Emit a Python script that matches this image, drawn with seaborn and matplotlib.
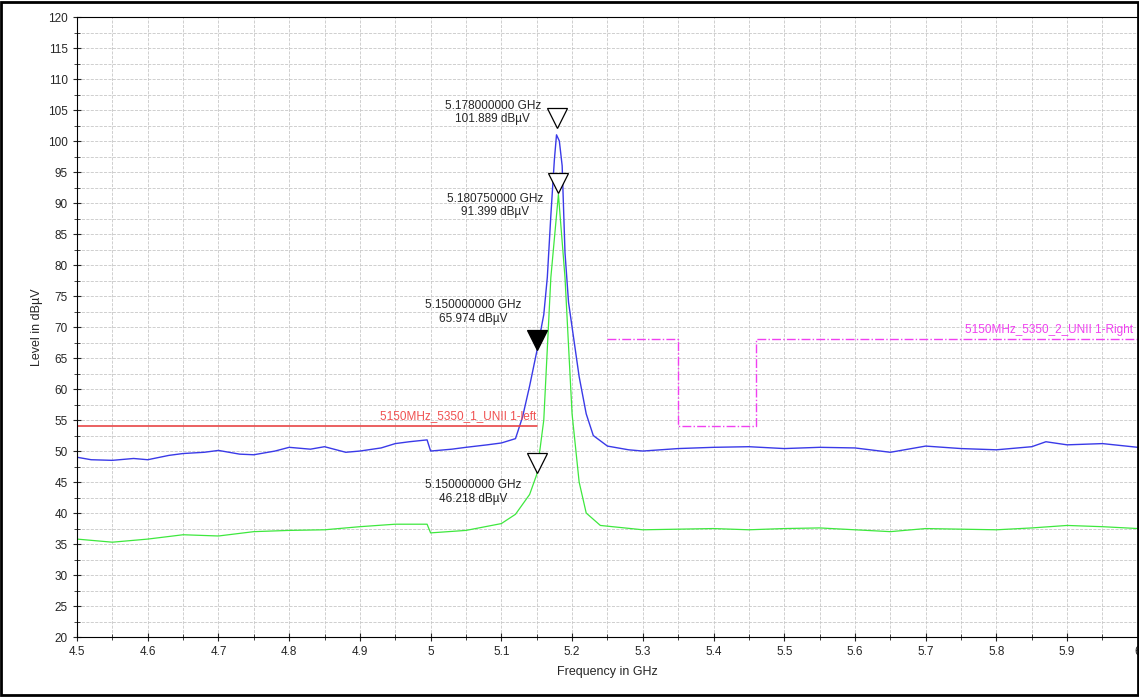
import numpy as np
import seaborn as sns
import matplotlib.pyplot as plt
from matplotlib.ticker import MultipleLocator, FuncFormatter
from matplotlib.patches import Rectangle

# trace values (GHz, dBµV)
blue_f = [4.5, 4.52, 4.55, 4.58, 4.6, 4.63, 4.65, 4.68, 4.7, 4.73, 4.75, 4.78, 4.8, 4.83,
          4.85, 4.88, 4.9, 4.93, 4.95, 4.97, 4.995, 5.0, 5.03, 5.05, 5.08, 5.1, 5.12, 5.13,
          5.14, 5.15, 5.16, 5.165, 5.17, 5.175, 5.178, 5.182, 5.186, 5.19, 5.195, 5.2, 5.21,
          5.22, 5.23, 5.25, 5.28, 5.3, 5.35, 5.4, 5.45, 5.5, 5.55, 5.6, 5.65, 5.7, 5.75, 5.8,
          5.85, 5.87, 5.9, 5.95, 6.0]
blue_v = [49.0, 48.6, 48.5, 48.8, 48.6, 49.3, 49.6, 49.8, 50.1, 49.5, 49.4, 50.0, 50.6, 50.3,
          50.7, 49.8, 50.0, 50.5, 51.2, 51.5, 51.8, 50.0, 50.3, 50.6, 51.0, 51.3, 52.0, 55.5,
          60.5, 66.0, 72.0, 78.0, 88.0, 97.0, 101.0, 100.0, 96.0, 82.0, 74.0, 70.0, 62.0,
          56.0, 52.5, 50.8, 50.2, 50.0, 50.4, 50.6, 50.7, 50.4, 50.6, 50.5, 49.8, 50.8, 50.4,
          50.2, 50.7, 51.5, 51.0, 51.2, 50.6]
green_f = [4.5, 4.55, 4.6, 4.65, 4.7, 4.75, 4.8, 4.85, 4.9, 4.95, 4.995, 5.0, 5.05, 5.1,
           5.12, 5.14, 5.15, 5.16, 5.17, 5.1807, 5.19, 5.2, 5.21, 5.22, 5.24, 5.3, 5.35,
           5.4, 5.45, 5.5, 5.55, 5.6, 5.65, 5.7, 5.75, 5.8, 5.85, 5.9, 5.95, 6.0]
green_v = [35.8, 35.3, 35.8, 36.5, 36.3, 37.0, 37.2, 37.3, 37.8, 38.2, 38.2, 36.8, 37.2, 38.3,
           39.8, 43.0, 46.2, 55.0, 78.0, 91.4, 78.0, 56.0, 45.0, 40.0, 38.0, 37.3, 37.4,
           37.5, 37.3, 37.5, 37.6, 37.3, 37.0, 37.5, 37.4, 37.3, 37.6, 38.0, 37.8, 37.5]

left_limit_f = [4.5, 4.5, 5.15]
left_limit_v = [68, 54, 54]
right_limit_f = [5.25, 5.35, 5.35, 5.46, 5.46, 6.0]
right_limit_v = [68, 68, 54, 54, 68, 68]

marker_f = [5.178, 5.18075, 5.15, 5.15]
marker_v = [101.889, 91.399, 65.974, 46.218]
marker_filled = [False, False, True, False]
marker_text = ["5.178000000 GHz\n101.889 dBµV", "5.180750000 GHz\n91.399 dBµV",
               "5.150000000 GHz\n65.974 dBµV", "5.150000000 GHz\n46.218 dBµV"]
text_dy = [2.7, -1.8, 6.5, -2.8]

sns.set_style("white")
plt.rcParams['font.family'] = ['Liberation Sans', 'DejaVu Sans']

fig = plt.figure(figsize=(11.39, 6.97), dpi=100)
ax = fig.add_axes([0.0676, 0.086, 0.9314, 0.8896])

sns.lineplot(x=blue_f, y=blue_v, ax=ax, color='#3a3ae8', lw=1.0, sort=False)
sns.lineplot(x=green_f, y=green_v, ax=ax, color='#3ee83e', lw=0.9, sort=False)
ax.plot(left_limit_f, left_limit_v, color='#e84545', lw=1.2)
ax.plot(right_limit_f, right_limit_v, color='#f040f0', lw=1.0, ls='-.')
ax.text(5.15, 54.6, "5150MHz_5350_1_UNII 1-left", color='#f05050', fontsize=8.5,
        ha='right', va='bottom')
ax.text(5.755, 68.6, "5150MHz_5350_2_UNII 1-Right", color='#f040f0', fontsize=8.5,
        ha='left', va='bottom', clip_on=True)

for f, v, filled, txt, dy in zip(marker_f, marker_v, marker_filled, marker_text, text_dy):
    ax.plot(f, v + 1.9, marker='v', ms=15, mec='black', mew=0.9,
            mfc='black' if filled else 'white', zorder=5)
    ax.text(f - 0.022, v + dy, txt, fontsize=8.5, ha='right', va='center',
            multialignment='center')

ax.set_xlim(4.5, 6.0)
ax.set_ylim(20, 120)
ax.xaxis.set_major_locator(MultipleLocator(0.1))
ax.xaxis.set_minor_locator(MultipleLocator(0.05))
ax.yaxis.set_major_locator(MultipleLocator(5))
ax.yaxis.set_minor_locator(MultipleLocator(2.5))
ax.xaxis.set_major_formatter(FuncFormatter(lambda x, p: f"{x:.1f}".rstrip('0').rstrip('.')))
ax.grid(which='both', color='#c8c8c8', ls='--', lw=0.6)
ax.tick_params(which='both', direction='inout', length=6, labelsize=8.5, left=True, bottom=True)
ax.tick_params(which='minor', length=4)
for s in ax.spines.values():
    s.set_color('black')
    s.set_linewidth(0.8)
ax.set_xlabel("Frequency in GHz", fontsize=9, labelpad=6)
ax.set_ylabel("Level in dBµV", fontsize=9)

fig.patches.append(Rectangle((0.001, 0.003), 0.998, 0.994, transform=fig.transFigure,
                             fill=False, ec='black', lw=2))

plt.savefig("out.png", dpi=100)
plt.close()
